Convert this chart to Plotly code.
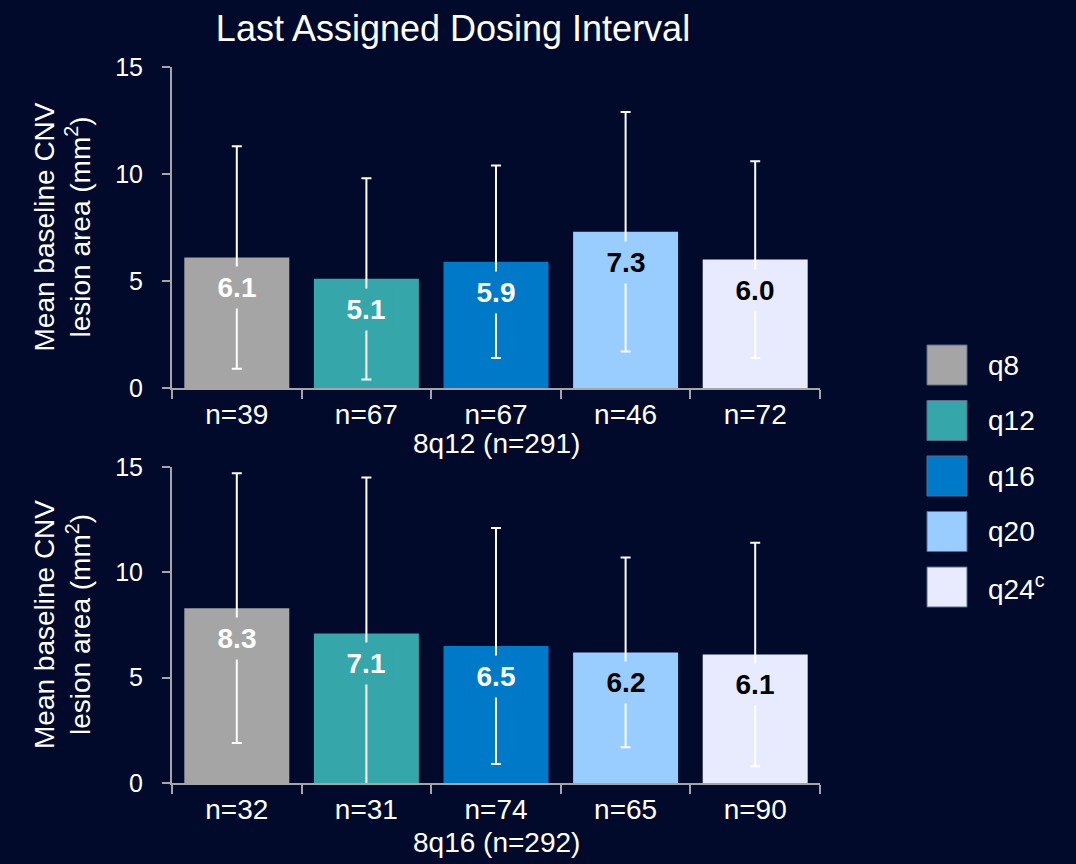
import plotly.graph_objects as go

# ---- data ----
categories = ["q8", "q12", "q16", "q20", "q24"]
legend_labels = ["q8", "q12", "q16", "q20", "q24<sup>c</sup>"]
top_means = [6.1, 5.1, 5.9, 7.3, 6.0]
top_sd = [5.2, 4.7, 4.5, 5.6, 4.6]
top_n = ["n=39", "n=67", "n=67", "n=46", "n=72"]
top_group = "8q12 (n=291)"
bottom_means = [8.3, 7.1, 6.5, 6.2, 6.1]
bottom_sd = [6.4, 7.4, 5.6, 4.5, 5.3]
bottom_n = ["n=32", "n=31", "n=74", "n=65", "n=90"]
bottom_group = "8q16 (n=292)"
y_ticks = [0, 5, 10, 15]
title_text = "Last Assigned Dosing Interval"
y_title = "Mean baseline CNV<br>lesion area (mm<sup>2</sup>)"

# ---- styles ----
colors = ["#A5A5A5", "#35A6AA", "#0079C8", "#99CCFF", "#E8EBFD"]
label_colors = ["#FFFFFF", "#FFFFFF", "#FFFFFF", "#000000", "#000000"]
BG = "#010A2B"
AXIS = "#A6A6A6"
FONT = "Liberation Sans, Arial, sans-serif"
W, H = 1076, 864


def px(x):
    return x / W


def py(y):
    return 1 - y / H


fig = go.Figure()

panels = [
    dict(means=top_means, sd=top_sd, n=top_n, group=top_group,
         xa="x", ya="y", top=67, bottom=388, group_y=443),
    dict(means=bottom_means, sd=bottom_sd, n=bottom_n, group=bottom_group,
         xa="x2", ya="y2", top=467, bottom=783, group_y=842),
]

annotations = []
for p in panels:
    fig.add_trace(go.Bar(
        x=categories, y=p["means"],
        marker=dict(color=colors, line=dict(width=0)),
        error_y=dict(type="data", array=p["sd"], visible=True,
                     color="#FFFFFF", thickness=2, width=5),
        xaxis=p["xa"], yaxis=p["ya"], showlegend=False,
        hoverinfo="skip",
    ))
    for c, v, col, tc in zip(categories, p["means"], colors, label_colors):
        annotations.append(dict(
            x=c, y=v, xref=p["xa"], yref=p["ya"], text=f"<b>{v:.1f}</b>",
            showarrow=False, xanchor="center", yanchor="top", yshift=-9,
            font=dict(family=FONT, size=28, color=tc),
            bgcolor=col, borderpad=0, height=41, width=52,
        ))
    annotations.append(dict(
        x=px(62), y=py((p["top"] + p["bottom"]) / 2), xref="paper", yref="paper",
        text=y_title, textangle=-90, showarrow=False,
        xanchor="center", yanchor="middle",
        font=dict(family=FONT, size=28, color="#FFFFFF"),
    ))
    annotations.append(dict(
        x=px(496), y=py(p["group_y"]), xref="paper", yref="paper",
        text=p["group"], showarrow=False, xanchor="center", yanchor="middle",
        font=dict(family=FONT, size=28, color="#FFFFFF"),
    ))

# legend (manual, large swatches)
shapes = []
for i, (lab, col) in enumerate(zip(legend_labels, colors)):
    y0 = 345 + i * 55.5
    shapes.append(dict(type="rect", xref="paper", yref="paper",
                       x0=px(927), x1=px(967), y0=py(y0 + 40), y1=py(y0),
                       fillcolor=col, line=dict(color="#5A6A8A", width=1)))
    annotations.append(dict(
        x=px(986), y=py(y0 + 20), xref="paper", yref="paper",
        text=lab, showarrow=False, xanchor="left", yanchor="middle",
        font=dict(family=FONT, size=28, color="#FFFFFF"),
    ))

xaxis_common = dict(
    type="category", tickson="boundaries", ticks="outside", ticklen=9,
    tickwidth=2, tickcolor=AXIS, showline=True, linecolor=AXIS, linewidth=2,
    showgrid=False, zeroline=False,
    tickfont=dict(family=FONT, size=28, color="#FFFFFF"),
    domain=[px(172), px(820)], fixedrange=True,
    tickmode="array", tickvals=categories,
)
yaxis_common = dict(
    range=[0, 15], tickvals=y_ticks, ticks="outside", ticklen=8, tickwidth=2,
    tickcolor=AXIS, showline=True, linecolor=AXIS, linewidth=2,
    showgrid=False, zeroline=False, ticklabelstandoff=14, fixedrange=True,
    tickfont=dict(family=FONT, size=25, color="#FFFFFF"),
)

fig.update_layout(
    width=W, height=H, autosize=False,
    paper_bgcolor=BG, plot_bgcolor=BG,
    margin=dict(l=0, r=0, t=0, b=0, autoexpand=False),
    bargap=0.19,
    title=dict(text=title_text, x=px(453), y=py(28), xanchor="center",
               yanchor="middle", xref="paper", yref="paper",
               font=dict(family=FONT, size=36, color="#FFFFFF")),
    xaxis=dict(xaxis_common, ticktext=top_n, anchor="y"),
    yaxis=dict(yaxis_common, domain=[py(388), py(67)], anchor="x"),
    xaxis2=dict(xaxis_common, ticktext=bottom_n, anchor="y2"),
    yaxis2=dict(yaxis_common, domain=[py(783), py(467)], anchor="x2"),
    annotations=annotations,
    shapes=shapes,
    showlegend=False,
)

fig.write_html(
    "out.html",
    config={"displayModeBar": False},
    post_script="document.body.style.margin='0';"
                "document.body.style.background='" + BG + "';",
)
